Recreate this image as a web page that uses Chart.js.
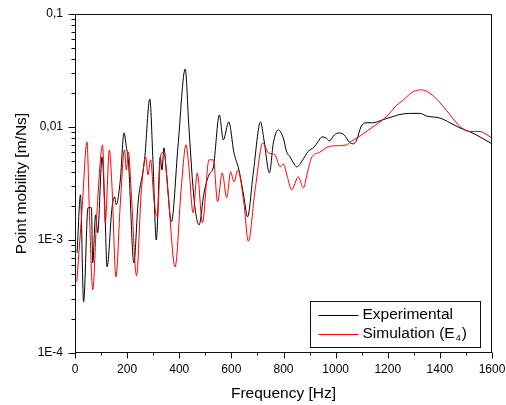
<!DOCTYPE html>
<html>
<head>
<meta charset="utf-8">
<script src="https://cdn.jsdelivr.net/npm/chart.js@4.4.1/dist/chart.umd.min.js"></script>
<style>
  html, body { margin: 0; padding: 0; background: #fff; }
  #wrap { width: 506px; height: 405px; position: relative; }
</style>
</head>
<body>
<div id="wrap"><canvas id="c"></canvas></div>
<script>
// ---- data ----
const seriesNames = ['Experimental', 'Simulation (E\u2084)'];
const seriesColors = ['#000000', '#ff0000'];

const freqExp = [8,21,33,50,63,68,79,87,104,114,123,142,152,158,174,188,197,205,226,242,267,287,299,312,327,334,341,350,370,395,423,437,457,476,495,514,531,554,569,590,610,629,648,662,684,712,725,746,761,780,799,812,825,838,851,874,893,918,932,948,963,976,995,1014,1033,1052,1068,1081,1097,1117,1142,1181,1221,1247,1285,1324,1349,1400,1439,1477,1516,1554,1600];
const mobExp = [7.70e-4,2.51e-3,2.84e-4,1.93e-3,1.93e-3,6.29e-4,1.67e-3,1.16e-3,5.44e-3,2.05e-3,5.79e-4,1.93e-3,2.41e-3,2.05e-3,3.41e-3,8.87e-3,6.67e-3,4.91e-3,6.29e-4,2.13e-3,5.12e-3,1.77e-2,5.12e-3,1.00e-3,5.44e-3,4.17e-3,6.54e-3,4.17e-3,1.45e-3,6.67e-3,3.26e-2,1.00e-2,2.27e-3,1.36e-3,2.61e-3,3.77e-3,4.44e-3,1.28e-2,7.69e-3,1.11e-2,5.90e-3,4.17e-3,2.41e-3,1.60e-3,3.93e-3,1.11e-2,7.69e-3,3.93e-3,7.23e-3,9.43e-3,8.01e-3,6.02e-3,5.44e-3,4.82e-3,4.44e-3,5.12e-3,6.02e-3,6.67e-3,7.38e-3,8.17e-3,8.01e-3,7.54e-3,8.51e-3,8.87e-3,8.51e-3,7.38e-3,7.09e-3,7.69e-3,1.00e-2,1.09e-2,1.09e-2,1.16e-2,1.24e-2,1.29e-2,1.32e-2,1.32e-2,1.25e-2,1.20e-2,1.09e-2,9.82e-3,9.05e-3,8.17e-3,7.09e-3];

const freqSim = [7,27,46,55,68,84,106,116,132,142,157,174,190,197,205,216,236,254,271,280,290,303,316,329,341,357,384,408,426,437,453,469,489,514,531,547,565,582,597,610,625,648,665,691,721,742,767,787,799,815,831,857,876,894,909,937,970,995,1042,1059,1094,1132,1196,1232,1260,1298,1330,1362,1413,1439,1477,1516,1554,1569,1600];
const mobSim = [4.27e-4,1.85e-3,7.38e-3,1.85e-3,3.63e-4,1.74e-3,6.95e-3,1.42e-3,6.27e-3,2.95e-3,4.73e-4,2.13e-3,6.27e-3,4.17e-3,6.02e-3,2.61e-3,4.83e-4,2.61e-3,5.44e-3,3.77e-3,5.12e-3,2.27e-3,1.60e-3,5.67e-3,6.02e-3,2.61e-3,5.79e-4,2.95e-3,6.95e-3,4.44e-3,1.74e-3,3.93e-3,1.42e-3,5.12e-3,5.12e-3,2.18e-3,3.93e-3,2.36e-3,4.01e-3,3.27e-3,4.17e-3,2.13e-3,9.74e-4,2.78e-3,7.23e-3,5.90e-3,5.67e-3,4.44e-3,4.72e-3,3.62e-3,2.78e-3,3.62e-3,2.89e-3,4.17e-3,5.44e-3,5.94e-3,6.67e-3,6.81e-3,6.95e-3,7.43e-3,8.34e-3,9.62e-3,1.24e-2,1.54e-2,1.74e-2,2.06e-2,2.13e-2,1.99e-2,1.52e-2,1.28e-2,1.01e-2,9.11e-3,9.11e-3,8.87e-3,7.96e-3];

const xMin = 0, xMax = 1600, xMajorStep = 200, xMinorStep = 100;
const yTickValues = [1e-4, 1e-3, 1e-2, 1e-1];
const yTickLabels = ['1E-4', '1E-3', '0,01', '0,1'];
const xTitle = 'Frequency [Hz]';
const yTitle = 'Point mobility [m/Ns]';

// ---- chart ----
const FONT = "'Liberation Sans', Arial, Helvetica, sans-serif";
const pts = (xs, ys) => xs.map((v, i) => ({ x: v, y: ys[i] }));

const framePlugin = {
  id: 'frameTicksLegend',
  afterDatasetsDraw(chart) {
    const { ctx, chartArea: a, scales } = chart;
    const xs = scales.x, ys = scales.y;
    ctx.save();
    ctx.strokeStyle = '#111';
    ctx.lineWidth = 1;
    // frame
    ctx.strokeRect(Math.round(a.left) + 0.5, Math.round(a.top) + 0.5,
                   Math.round(a.right - a.left) - 1, Math.round(a.bottom - a.top) - 1);
    ctx.beginPath();
    // x ticks (outward)
    const yb = Math.round(a.bottom) - 0.5;
    for (let v = xMin; v <= xMax; v += xMinorStep) {
      const px = Math.round(xs.getPixelForValue(v)) + 0.5;
      const len = (v % xMajorStep === 0) ? 6 : 3;
      ctx.moveTo(px, yb); ctx.lineTo(px, yb + len);
    }
    // y ticks (outward), majors and log minors
    const xl = Math.round(a.left) + 0.5;
    for (let e = -4; e <= -1; e++) {
      for (let m = 1; m <= 9; m++) {
        const v = m * Math.pow(10, e);
        if (v > ys.max * 1.0001) continue;
        const py = Math.round(ys.getPixelForValue(v)) + 0.5;
        const len = m === 1 ? 7 : 4;
        ctx.moveTo(xl, py); ctx.lineTo(xl - len, py);
      }
    }
    ctx.stroke();

    // legend box
    const bx = Math.round(a.right) - 182 + 0.5, by = Math.round(a.bottom) - 52 + 0.5;
    const bw = 170, bh = 46;
    ctx.fillStyle = '#fff';
    ctx.fillRect(bx, by, bw, bh);
    ctx.strokeStyle = '#111';
    ctx.strokeRect(bx, by, bw, bh);
    const rows = [by + 13.5, by + 32];
    chart.data.datasets.forEach((ds, i) => {
      const ry = rows[i];
      ctx.strokeStyle = ds.borderColor;
      ctx.lineWidth = 1;
      ctx.beginPath();
      ctx.moveTo(bx + 8, Math.round(ry) + 0.5); ctx.lineTo(bx + 48, Math.round(ry) + 0.5);
      ctx.stroke();
      ctx.fillStyle = '#000';
      ctx.textBaseline = 'middle';
      ctx.textAlign = 'left';
      let tx = bx + 52;
      const parts = ds.label.split(/([\u2080-\u2089])/);
      parts.forEach(p => {
        if (!p) return;
        if (/^[\u2080-\u2089]$/.test(p)) {
          const d = String(p.charCodeAt(0) - 0x2080);
          ctx.font = '9px ' + FONT;
          ctx.fillText(d, tx + 1, ry + 5);
          tx += ctx.measureText(d).width + 2;
        } else {
          ctx.font = '15.5px ' + FONT;
          ctx.fillText(p, tx, ry);
          tx += ctx.measureText(p).width;
        }
      });
    });
    ctx.restore();
  }
};

new Chart(document.getElementById('c'), {
  type: 'line',
  data: {
    datasets: [
      { label: seriesNames[0], data: pts(freqExp, mobExp), borderColor: seriesColors[0],
        borderWidth: 1, pointRadius: 0, cubicInterpolationMode: 'monotone', fill: false, order: 1 },
      { label: seriesNames[1], data: pts(freqSim, mobSim), borderColor: seriesColors[1],
        borderWidth: 1, pointRadius: 0, cubicInterpolationMode: 'monotone', fill: false, order: 0 }
    ]
  },
  options: {
    responsive: true,
    maintainAspectRatio: false,
    animation: false,
    devicePixelRatio: 1,
    layout: { padding: { left: 0, top: 14, right: 14, bottom: 0 } },
    plugins: { legend: { display: false }, tooltip: { enabled: false } },
    scales: {
      x: {
        type: 'linear', min: xMin, max: xMax,
        grid: { display: false, drawTicks: false, tickLength: 0 },
        border: { display: false },
        ticks: { stepSize: xMajorStep, color: '#000', font: { family: FONT, size: 12 }, padding: 9,
                 maxRotation: 0, autoSkip: false, callback: (v) => String(v) },
        title: { display: true, text: xTitle, color: '#000', font: { family: FONT, size: 15.5 },
                 padding: { top: 0, bottom: 2 } },
        afterFit(s) { s.height = 52; s.paddingRight = 0; s.paddingLeft = 0; }
      },
      y: {
        type: 'logarithmic', min: yTickValues[0], max: yTickValues[yTickValues.length - 1],
        grid: { display: false, drawTicks: false, tickLength: 0 },
        border: { display: false },
        afterBuildTicks(s) { s.ticks = yTickValues.map(v => ({ value: v })); },
        ticks: { color: '#000', font: { family: FONT, size: 12 }, padding: 12, autoSkip: false,
                 callback: (v) => { const i = yTickValues.findIndex(t => Math.abs(t - v) / t < 1e-6); return i >= 0 ? yTickLabels[i] : ''; } },
        title: { display: true, text: yTitle, color: '#000', font: { family: FONT, size: 15.5 },
                 padding: { top: 12, bottom: 0 } },
        afterFit(s) { s.width = 75; s.paddingTop = 0; s.paddingBottom = 0; }
      }
    }
  },
  plugins: [framePlugin]
});
</script>
</body>
</html>
